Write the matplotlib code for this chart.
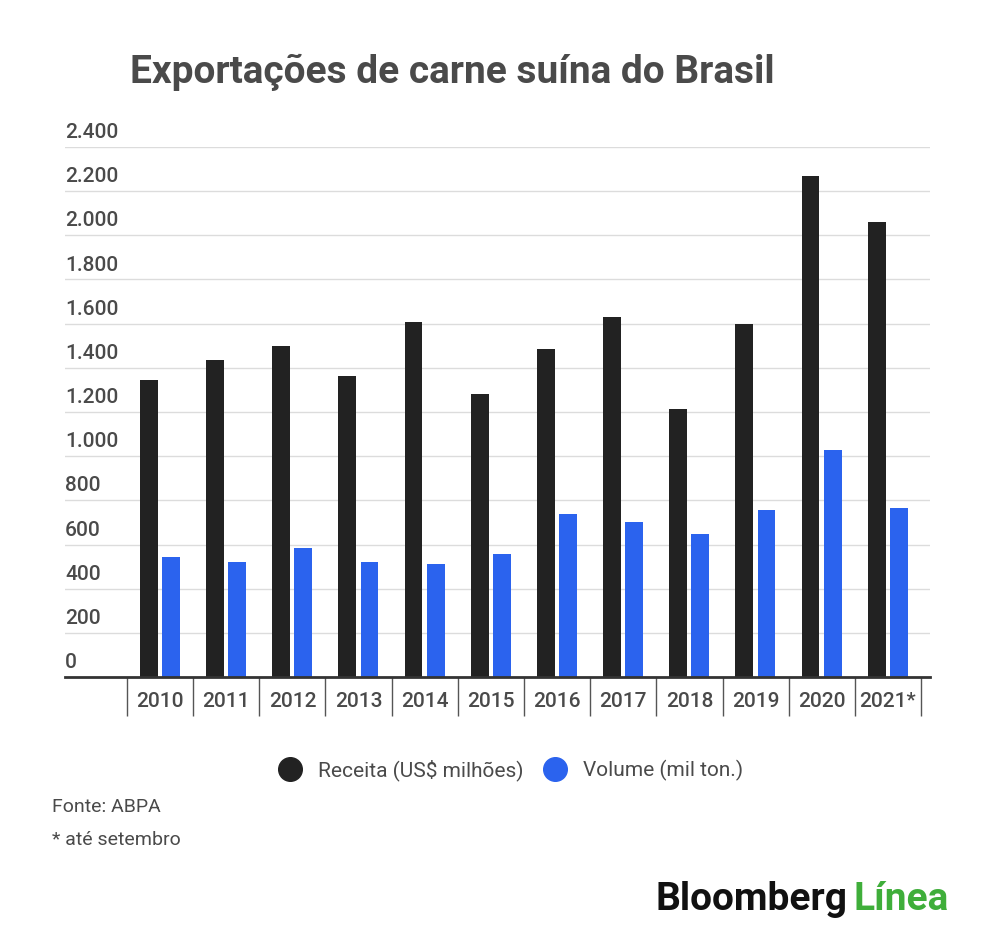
import numpy as np
import matplotlib
matplotlib.use('agg')
import matplotlib.pyplot as plt
from matplotlib.lines import Line2D
from matplotlib.transforms import blended_transform_factory

anos = ['2010', '2011', '2012', '2013', '2014', '2015',
        '2016', '2017', '2018', '2019', '2020', '2021*']
receita = [1344, 1437, 1498, 1361, 1607, 1281, 1486, 1628, 1214, 1598, 2270, 2062]
volume = [545, 519, 585, 521, 511, 559, 736, 701, 649, 755, 1029, 767]
yticks = [0, 200, 400, 600, 800, 1000, 1200, 1400, 1600, 1800, 2000, 2200, 2400]

plt.rcParams['font.family'] = ['Roboto', 'DejaVu Sans']
preto = '#222222'
azul = '#2b63ee'
cinza = '#4a4a4a'

fig = plt.figure(figsize=(10, 9.44), dpi=100)
ax = fig.add_axes([0.065, 267 / 944, 0.865, 530 / 944])

x = np.arange(len(anos))
w = 0.27
ax.bar(x - 0.17, receita, w, color=preto, zorder=3)
ax.bar(x + 0.165, volume, w, color=azul, zorder=3)

ax.set_ylim(0, 2400)
ax.set_xlim(-1.437, 11.636)

# grid + labels sitting above each line
tr = blended_transform_factory(ax.transAxes, ax.transData)
for v in yticks[1:]:
    ax.axhline(v, color='#dcdcdc', lw=1, zorder=1)
for v in yticks:
    ax.text(0, v + 22, f'{v:,}'.replace(',', '.'), transform=tr, ha='left', va='bottom',
            fontsize=15, color=cinza, fontweight='medium')
ax.set_yticks([])

for s in ['top', 'right', 'left']:
    ax.spines[s].set_visible(False)
ax.spines['bottom'].set_color('#333333')
ax.spines['bottom'].set_linewidth(2)
ax.spines['bottom'].set_zorder(4)

ax.set_xticks(x)
ax.set_xticklabels(anos, fontsize=15, color=cinza, fontweight='medium')
ax.tick_params(axis='x', which='major', length=0, pad=11)
ax.set_xticks(np.arange(-0.5, len(anos)), minor=True)
ax.tick_params(axis='x', which='minor', length=28, width=1, color='#555555')

fig.text(0.13, (944 - 83) / 944, 'Exportações de carne suína do Brasil',
         fontsize=28, fontweight='bold', color=cinza)

handles = [Line2D([], [], marker='o', ls='', markersize=17, color=preto),
           Line2D([], [], marker='o', ls='', markersize=17, color=azul)]
fig.legend(handles, ['Receita (US$ milhões)', 'Volume (mil ton.)'], loc='center',
           bbox_to_anchor=(0.506, (944 - 770) / 944), ncol=2, frameon=False,
           fontsize=15, labelcolor=cinza, handletextpad=0.35, columnspacing=0.5)

fig.text(0.052, (944 - 812) / 944, 'Fonte: ABPA', fontsize=14, color=cinza)
fig.text(0.052, (944 - 845) / 944, '* até setembro', fontsize=14, color=cinza)

fig.text(0.655, (944 - 910) / 944, 'Bloomberg', fontsize=28, fontweight='bold',
         color='#111111')
fig.text(0.949, (944 - 910) / 944, 'Línea', fontsize=28, fontweight='bold', ha='right',
         color='#3fae3a')

fig.savefig('out.png', dpi=100)
